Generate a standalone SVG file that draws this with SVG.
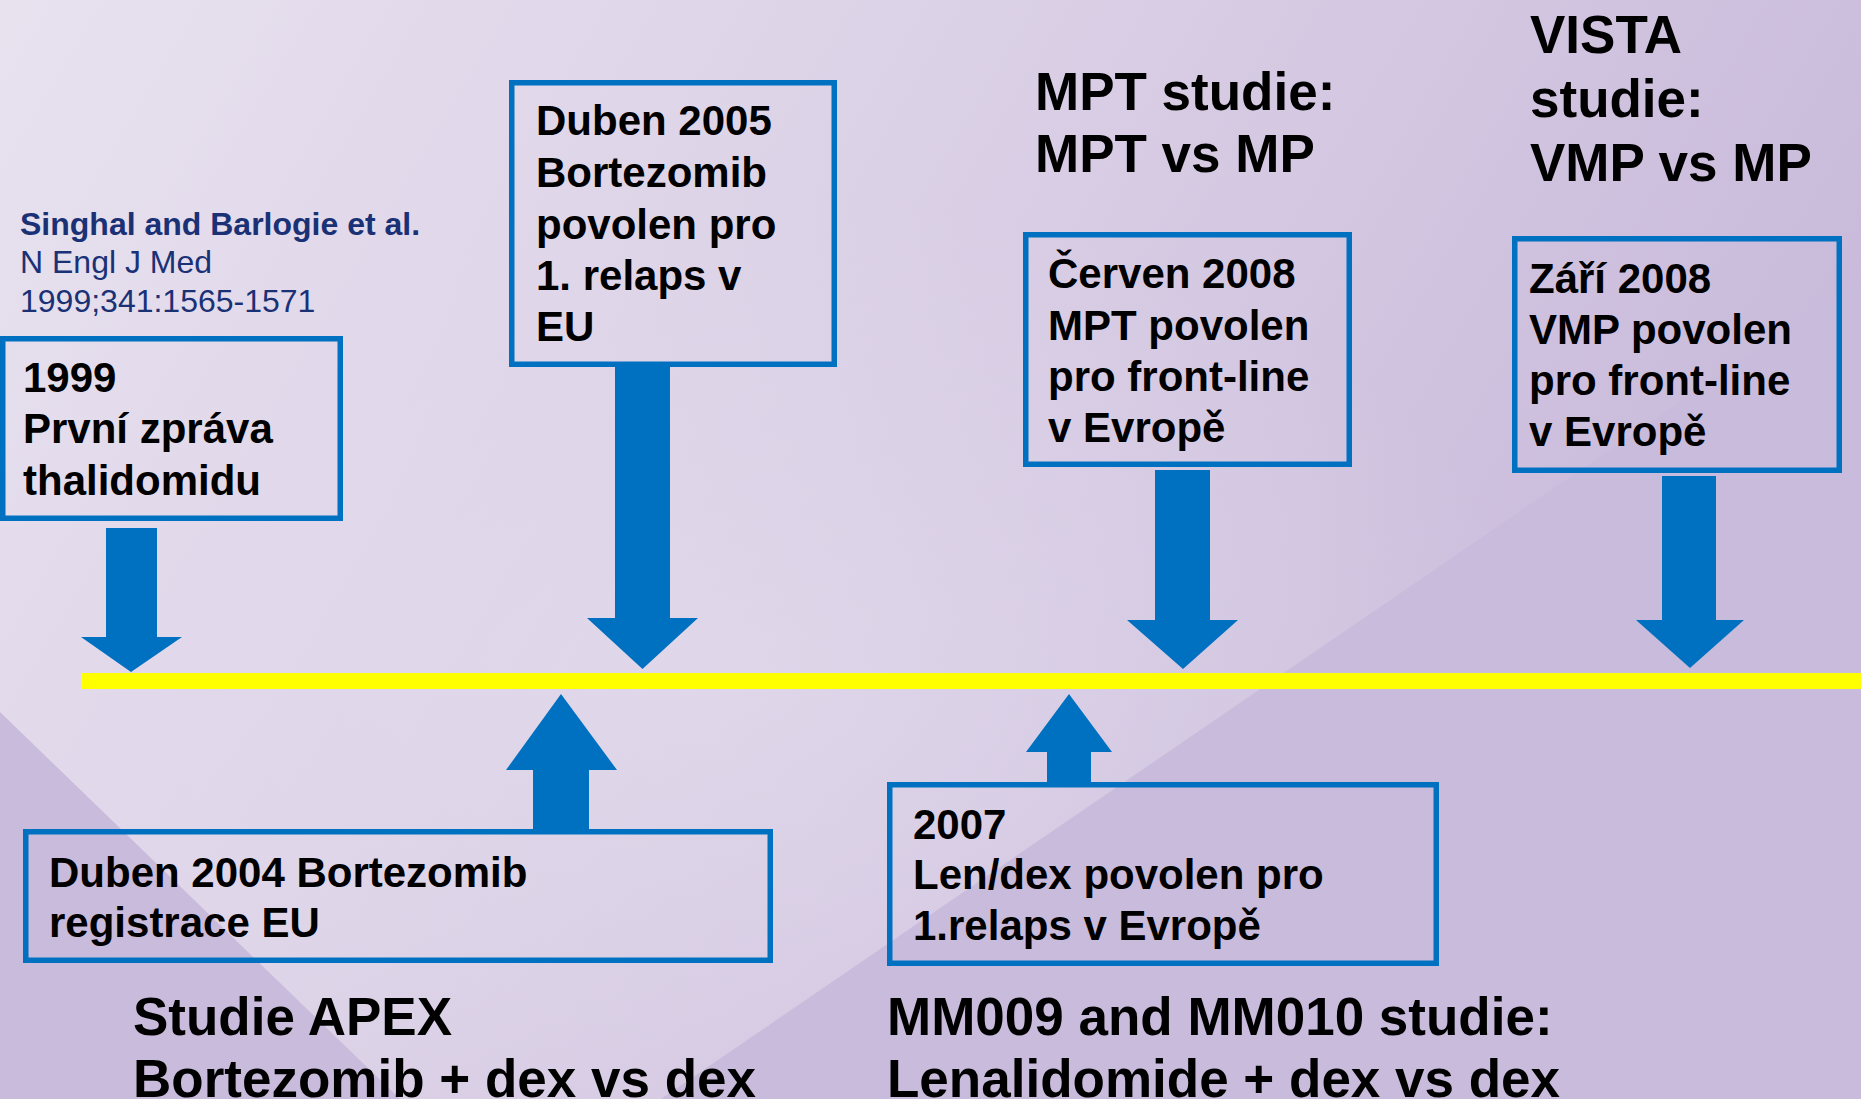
<svg xmlns="http://www.w3.org/2000/svg" width="1861" height="1099" viewBox="0 0 1861 1099">
  <defs>
    <linearGradient id="bg" x1="0" y1="0" x2="1" y2="0.35">
      <stop offset="0" stop-color="#E8E2EF"/>
      <stop offset="0.45" stop-color="#DCD2E7"/>
      <stop offset="1" stop-color="#C8B9DA"/>
    </linearGradient>
    <radialGradient id="glow" cx="0.38" cy="0.62" r="0.45">
      <stop offset="0" stop-color="#E2DAEC" stop-opacity="0.7"/>
      <stop offset="1" stop-color="#E2DAEC" stop-opacity="0"/>
    </radialGradient>
    <style>
      .box { fill: none; stroke: #0070C0; stroke-width: 5.5; }
      .arrow { fill: #0070C0; }
      .t { font-family: "Liberation Sans", Arial, sans-serif; font-weight: bold; font-size: 42px; fill: #000; }
      .h { font-family: "Liberation Sans", Arial, sans-serif; font-weight: bold; font-size: 53px; fill: #000; }
      .ref { font-family: "Liberation Sans", Arial, sans-serif; font-size: 32px; fill: #1A3175; }
      .refb { font-weight: bold; }
    </style>
  </defs>

  <g id="background">
    <rect x="0" y="0" width="1861" height="1099" fill="url(#bg)"/>
    <rect x="0" y="0" width="1861" height="1099" fill="url(#glow)"/>
    <polygon points="0,712 400,1099 0,1099" fill="#C9BBDC"/>
    <polygon points="661,1099 1861,278 1861,1099" fill="#C9BBDB"/>
  </g>

  <g id="timeline">
    <rect x="81" y="673" width="1780" height="16" fill="#FFFF00"/>
  </g>

  <g id="connectors">
    <polygon class="arrow" points="106,528 157,528 157,637 182,637 131,672 81,637 106,637"/>
    <polygon class="arrow" points="615,367 670,367 670,618 698,618 642.5,669 587,618 615,618"/>
    <polygon class="arrow" points="1155,470 1210,470 1210,620 1238,620 1183,669 1127,620 1155,620"/>
    <polygon class="arrow" points="1662,476 1716,476 1716,620 1744,620 1690,668 1636,620 1662,620"/>
    <polygon class="arrow" points="533,831 589,831 589,770 617,770 561,694 506,770 533,770"/>
    <polygon class="arrow" points="1047,782 1091,782 1091,752 1112,752 1069,694 1026,752 1047,752"/>
  </g>

  <g id="reference">
    <text class="ref refb" x="20" y="235">Singhal and Barlogie et al.</text>
    <text class="ref" x="20" y="273">N Engl J Med</text>
    <text class="ref" x="20" y="312">1999;341:1565-1571</text>
  </g>

  <g id="node-1999">
    <rect class="box" x="2.75" y="338.75" width="337.5" height="179.5"/>
    <text class="t" x="23" y="392">1999</text>
    <text class="t" x="23" y="443">První zpráva</text>
    <text class="t" x="23" y="495">thalidomidu</text>
  </g>

  <g id="node-duben2005">
    <rect class="box" x="511.75" y="82.75" width="322.5" height="281.5"/>
    <text class="t" x="536" y="135">Duben 2005</text>
    <text class="t" x="536" y="187">Bortezomib</text>
    <text class="t" x="536" y="239">povolen pro</text>
    <text class="t" x="536" y="290">1. relaps v</text>
    <text class="t" x="536" y="341">EU</text>
  </g>

  <g id="node-cerven2008">
    <rect class="box" x="1025.75" y="234.75" width="323.5" height="229.5"/>
    <text class="t" x="1048" y="288">Červen 2008</text>
    <text class="t" x="1048" y="340">MPT povolen</text>
    <text class="t" x="1048" y="391">pro front-line</text>
    <text class="t" x="1048" y="442">v Evropě</text>
  </g>

  <g id="node-zari2008">
    <rect class="box" x="1514.75" y="238.75" width="324.5" height="231.5"/>
    <text class="t" x="1529" y="293">Září 2008</text>
    <text class="t" x="1529" y="344">VMP povolen</text>
    <text class="t" x="1529" y="395">pro front-line</text>
    <text class="t" x="1529" y="446">v Evropě</text>
  </g>

  <g id="node-duben2004">
    <rect class="box" x="25.75" y="831.75" width="744.5" height="128.5"/>
    <text class="t" x="49" y="887">Duben 2004 Bortezomib</text>
    <text class="t" x="49" y="937">registrace EU</text>
  </g>

  <g id="node-2007">
    <rect class="box" x="889.75" y="784.75" width="546.5" height="178.5"/>
    <text class="t" x="913" y="839">2007</text>
    <text class="t" x="913" y="889">Len/dex povolen pro</text>
    <text class="t" x="913" y="940">1.relaps v Evropě</text>
  </g>

  <g id="label-mpt">
    <text class="h" x="1035" y="110">MPT studie:</text>
    <text class="h" x="1035" y="172">MPT vs MP</text>
  </g>

  <g id="label-vista">
    <text class="h" x="1530" y="53">VISTA</text>
    <text class="h" x="1530" y="117">studie:</text>
    <text class="h" x="1530" y="181">VMP vs MP</text>
  </g>

  <g id="label-apex">
    <text class="h" x="133" y="1035">Studie APEX</text>
    <text class="h" x="133" y="1097">Bortezomib + dex vs dex</text>
  </g>

  <g id="label-mm">
    <text class="h" x="887" y="1035">MM009 and MM010 studie:</text>
    <text class="h" x="887" y="1097">Lenalidomide + dex vs dex</text>
  </g>
</svg>
